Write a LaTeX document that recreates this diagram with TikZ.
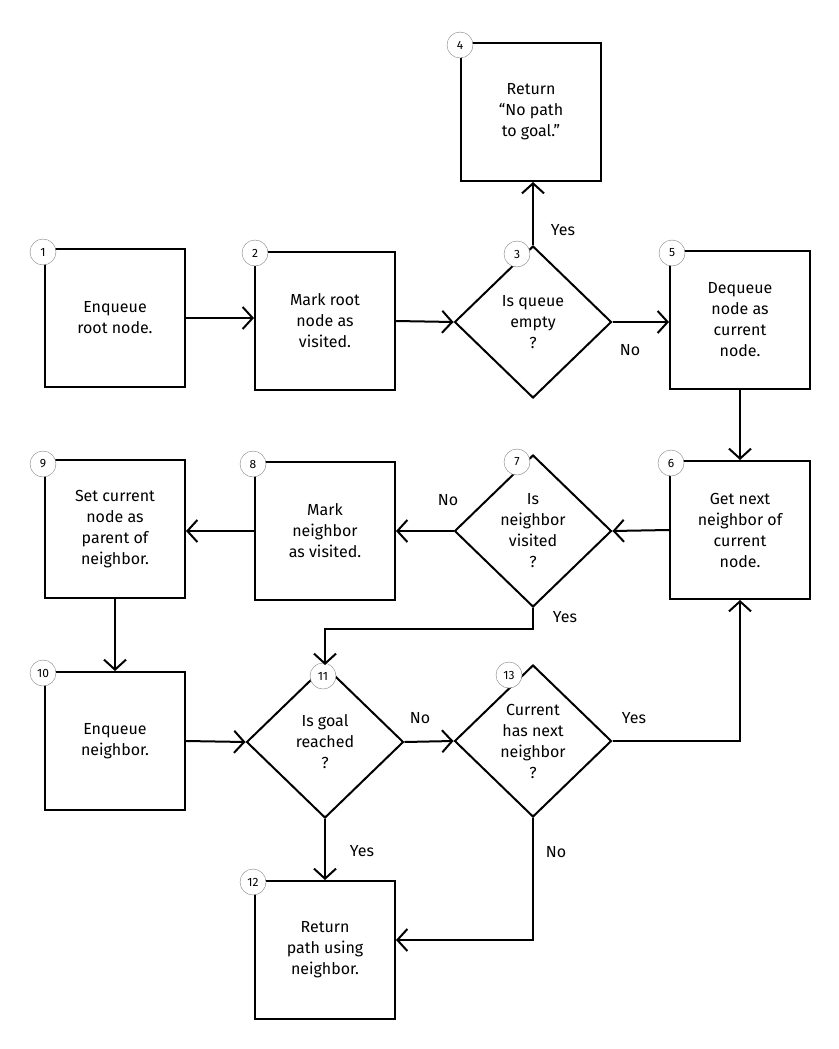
\documentclass[tikz,border=0pt]{standalone}
\usepackage{fontspec}
\setmainfont{Fira Sans}
\usetikzlibrary{shapes.geometric,arrows.meta}
\begin{document}
\begin{tikzpicture}[x=1pt,y=-1pt,
  box/.style={draw,line width=2pt,minimum width=140pt,minimum height=138pt,align=center,font=\fontsize{16}{21}\selectfont,fill=white},
  dia/.style={draw,diamond,line width=2pt,minimum width=157pt,minimum height=152pt,inner sep=0pt,align=center,font=\fontsize{16}{21}\selectfont},
  badge/.style={circle,draw=gray,fill=white,minimum size=26pt,inner sep=0pt,font=\fontsize{12}{12}\selectfont},
  arr/.style={line width=2pt,-{Straight Barb[length=10pt,width=22pt,line width=2pt]}},
  lbl/.style={font=\fontsize{16}{16}\selectfont}]
\useasboundingbox (0,0) rectangle (838,1049);
\node[box] (n1) at (115,318) {Enqueue\\root node.};
\node[box] (n2) at (325,321) {Mark root\\node as\\visited.};
\node[dia] (n3) at (533,322) {Is queue\\empty\\?};
\node[box] (n4) at (531,112) {Return\\“No path\\to goal.”};
\node[box] (n5) at (740,320) {Dequeue\\node as\\current\\node.};
\node[box] (n6) at (740,530) {Get next\\neighbor of\\current\\node.};
\node[dia] (n7) at (533,531) {Is\\neighbor\\visited\\?};
\node[box] (n8) at (325,531) {Mark\\neighbor\\as visited.};
\node[box] (n9) at (115,529) {Set current\\node as\\parent of\\neighbor.};
\node[box] (n10) at (115,741) {Enqueue\\neighbor.};
\node[dia] (n11) at (325,742) {Is goal\\reached\\?};
\node[dia] (n13) at (533,741) {Current\\has next\\neighbor\\?};
\node[box] (n12) at (325,950) {Return\\path using\\neighbor.};
\foreach \n/\x/\y in {1/43/252,2/255/253,3/517/254,4/460/45,5/672/253,6/671/463,7/517/462,8/253/464,9/43/464,10/43/673,11/323/676,13/509/675,12/253/882}
  \node[badge] (b\n) at (\x,\y) {\n};
\draw[arr] (n1.east) -- (n2.west|-n1.east);
\draw[arr] (n2.east) -- (n3.west);
\draw[arr] (n3.north) -- (n3.north|-n4.south);
\draw[arr] (n3.east) -- (n5.west|-n3.east);
\draw[arr] (n5.south) -- (n6.north);
\draw[arr] (n6.west) -- (n7.east);
\draw[arr] (n7.west) -- (n8.east);
\draw[arr] (n8.west) -- (n9.east|-n8.west);
\draw[arr] (n9.south) -- (n10.north);
\draw[arr] (n7.south) -- ++(0,21) -| (n11.north);
\draw[arr] (n10.east) -- (n11.west);
\draw[arr] (n11.east) -- (n13.west);
\draw[arr] (n13.east) -| (n6.south);
\draw[arr] (n11.south) -- (n12.north);
\draw[arr] (n13.south) |- (n12.east|-0,940);
\node[lbl] (y3) at (563,230) {Yes};
\node[lbl] (no3) at (630,350) {No};
\node[lbl] (no7) at (448,500) {No};
\node[lbl] (y7) at (565,617) {Yes};
\node[lbl] (no11) at (420,718) {No};
\node[lbl] (y13) at (634,718) {Yes};
\node[lbl] (y11) at (362,851) {Yes};
\node[lbl] (no13) at (556,852) {No};
\end{tikzpicture}
\end{document}
